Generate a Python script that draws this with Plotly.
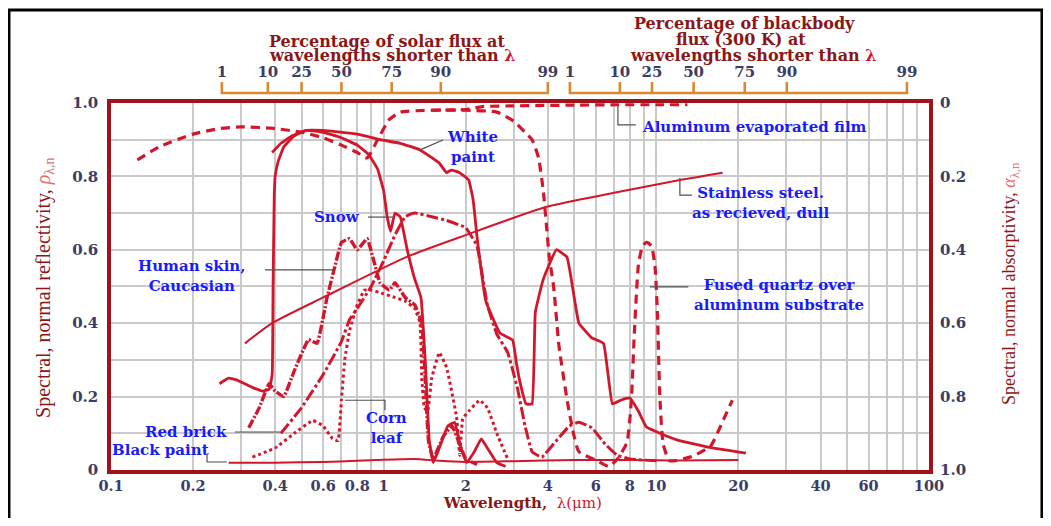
import numpy as np
import plotly.graph_objects as go

# ---------------- data (wavelength in micrometres, reflectivity) ----------------
aluminum_wl = [0.125, 0.15, 0.2, 0.25, 0.3, 0.4, 0.5, 0.6, 0.7, 0.8, 0.87, 0.95, 1.05, 1.15, 1.5, 2.0, 2.3, 3.0, 5.0, 7.2, 10.0, 13.0]
aluminum_rho = [0.845, 0.88, 0.915, 0.93, 0.935, 0.93, 0.92, 0.905, 0.885, 0.865, 0.85, 0.90, 0.955, 0.975, 0.98, 0.982, 0.99, 0.992, 0.994, 0.995, 0.995, 0.995]

quartz_wl = [1.5, 2.0, 2.6, 3.0, 3.3, 3.5, 3.7, 3.85, 3.95, 4.05, 4.2, 4.4, 4.8, 5.2, 6.0, 6.7, 7.2, 7.8, 8.1, 8.3, 8.6, 8.9, 9.2, 9.6, 9.9, 10.1, 10.3, 10.6, 11.2, 13.5, 15.8, 17.6, 19.0]
quartz_rho = [0.98, 0.98, 0.975, 0.95, 0.92, 0.90, 0.85, 0.76, 0.67, 0.58, 0.50, 0.335, 0.155, 0.05, 0.027, 0.01, 0.03, 0.075, 0.19, 0.37, 0.56, 0.61, 0.62, 0.61, 0.55, 0.42, 0.2, 0.07, 0.025, 0.037, 0.065, 0.136, 0.19]

white_wl = [0.25, 0.27, 0.29, 0.33, 0.36, 0.38, 0.39, 0.393, 0.397, 0.40, 0.41, 0.43, 0.47, 0.52, 0.6, 0.8, 0.97, 1.15, 1.36, 1.6, 1.7, 1.77, 1.9, 2.05, 2.13, 2.2, 2.37, 2.67, 2.97, 3.07, 3.15, 3.33, 3.5, 3.6, 3.85, 4.3, 4.7, 4.95, 5.2, 5.8, 6.4, 6.9, 7.4, 8.0, 8.6, 9.2, 10.3, 11.9, 15.3, 21.3]
white_rho = [0.235, 0.25, 0.245, 0.225, 0.215, 0.22, 0.26, 0.5, 0.75, 0.80, 0.84, 0.88, 0.91, 0.925, 0.925, 0.915, 0.90, 0.89, 0.872, 0.836, 0.81, 0.817, 0.81, 0.79, 0.735, 0.635, 0.46, 0.373, 0.354, 0.29, 0.245, 0.18, 0.18, 0.43, 0.52, 0.60, 0.58, 0.49, 0.40, 0.36, 0.345, 0.18, 0.19, 0.196, 0.16, 0.117, 0.10, 0.082, 0.063, 0.046]

snow_wl = [0.39, 0.42, 0.46, 0.52, 0.6, 0.7, 0.8, 0.88, 0.95, 1.0, 1.03, 1.06, 1.1, 1.15, 1.22, 1.3, 1.37, 1.42, 1.47, 1.52, 1.6, 1.72, 1.82, 1.92, 2.02, 2.15, 2.28, 2.4, 2.6, 2.8]
snow_rho = [0.865, 0.89, 0.91, 0.925, 0.92, 0.905, 0.885, 0.86, 0.82, 0.76, 0.69, 0.65, 0.70, 0.69, 0.60, 0.52, 0.47, 0.30, 0.08, 0.02, 0.06, 0.12, 0.13, 0.06, 0.02, 0.05, 0.085, 0.06, 0.02, 0.01]

skin_wl = [0.32, 0.35, 0.38, 0.40, 0.43, 0.47, 0.53, 0.57, 0.62, 0.66, 0.70, 0.75, 0.80, 0.87, 0.92, 0.97, 1.05, 1.1, 1.2, 1.3, 1.38, 1.42, 1.46, 1.52, 1.65, 1.78, 1.9, 2.0, 2.2]
skin_rho = [0.115, 0.17, 0.235, 0.215, 0.20, 0.27, 0.355, 0.345, 0.47, 0.55, 0.62, 0.63, 0.60, 0.63, 0.57, 0.51, 0.49, 0.51, 0.47, 0.45, 0.40, 0.25, 0.08, 0.03, 0.09, 0.12, 0.07, 0.03, 0.015]

brick_wl = [0.42, 0.5, 0.6, 0.7, 0.75, 0.8, 0.9, 1.0, 1.1, 1.2, 1.3, 1.5, 1.7, 2.0, 2.2, 2.4, 2.6, 2.85, 3.1, 3.3, 3.5, 3.8, 4.3, 4.8, 5.2, 5.8, 6.5, 7.2, 8.0, 10.0]
brick_rho = [0.10, 0.17, 0.26, 0.35, 0.41, 0.44, 0.50, 0.57, 0.64, 0.69, 0.70, 0.69, 0.68, 0.66, 0.61, 0.45, 0.37, 0.32, 0.22, 0.12, 0.05, 0.035, 0.08, 0.12, 0.13, 0.115, 0.07, 0.04, 0.03, 0.025]

corn_wl = [0.33, 0.4, 0.47, 0.55, 0.6, 0.65, 0.68, 0.7, 0.72, 0.75, 0.8, 0.85, 0.9, 1.0, 1.1, 1.2, 1.3, 1.36, 1.38, 1.41, 1.45, 1.5, 1.6, 1.7, 1.85, 1.9, 1.95, 2.05, 2.25, 2.4, 2.6, 2.85]
corn_rho = [0.035, 0.06, 0.10, 0.135, 0.12, 0.085, 0.08, 0.19, 0.30, 0.38, 0.45, 0.49, 0.49, 0.48, 0.47, 0.46, 0.44, 0.40, 0.25, 0.17, 0.16, 0.25, 0.32, 0.28, 0.145, 0.04, 0.14, 0.16, 0.19, 0.17, 0.10, 0.03]

steel_wl = [0.31, 0.39, 0.6, 1.21, 2.0, 3.96, 7.0, 12.2, 17.5]
steel_rho = [0.345, 0.40, 0.47, 0.58, 0.64, 0.717, 0.755, 0.79, 0.81]

black_wl = [0.27, 0.4, 0.6, 0.8, 1.0, 1.3, 1.6, 2.0, 3.0, 5.0, 8.0, 12.0, 20.0]
black_rho = [0.02, 0.02, 0.022, 0.025, 0.028, 0.03, 0.025, 0.022, 0.024, 0.027, 0.027, 0.026, 0.027]

# top scales: percentage of flux at wavelengths shorter than lambda
pct_labels = ["1", "10", "25", "50", "75", "90", "99"]
solar_pct_wl = [0.255, 0.376, 0.50, 0.70, 1.07, 1.62, 4.0]
bb_pct_wl = [4.82, 7.35, 9.64, 13.7, 21.1, 30.1, 83.0]

# axis ticks
x_tickvals = [0.1, 0.2, 0.4, 0.6, 0.8, 1, 2, 4, 6, 8, 10, 20, 40, 60, 100]
x_ticktext = ["0.1", "0.2", "0.4", "0.6", "0.8", "1", "2", "4", "6", "8", "10", "20", "40", "60", "100"]
x_grid = [round(m * 10.0 ** e, 3) for e in (-1, 0, 1) for m in range(1, 10)] + [100.0]
y_tickvals = [0, 0.2, 0.4, 0.6, 0.8, 1.0]
y_ticktext = ["0", "0.2", "0.4", "0.6", "0.8", "1.0"]
y_grid = [round(0.1 * i, 1) for i in range(11)]
alpha_tickvals = [0.0, 0.2, 0.4, 0.6, 0.8, 1.0]
alpha_ticktext = ["0", "0.2", "0.4", "0.6", "0.8", "1.0"]

# curve labels: (text, wavelength, rho, xanchor)
curve_labels = [
    ("White<br>paint", 2.11, 0.88, "center"),
    ("Aluminum evaporated film", 8.7, 0.935, "left"),
    ("Stainless steel.<br>as recieved, dull", 24.2, 0.727, "center"),
    ("Snow", 0.675, 0.689, "center"),
    ("Human skin,<br>Caucasian", 0.198, 0.529, "center"),
    ("Fused quartz over<br>aluminum substrate", 28.2, 0.477, "center"),
    ("Corn<br>leaf", 1.02, 0.114, "center"),
    ("Red brick", 0.188, 0.1035, "center"),
    ("Black paint", 0.152, 0.0545, "center"),
]
# leader lines (wavelength list, rho list)
leaders = [
    ([1.36, 1.65], [0.872, 0.899]),
    ([7.23, 7.23, 8.41], [0.995, 0.94, 0.94]),
    ([12.2, 12.2, 13.5], [0.796, 0.749, 0.749]),
    ([0.876, 1.08], [0.689, 0.689]),
    ([0.367, 0.663], [0.545, 0.545]),
    ([9.47, 13.1], [0.4986, 0.4986]),
    ([0.721, 1.011, 1.011], [0.19, 0.19, 0.163]),
    ([0.285, 0.417], [0.1035, 0.1035]),
    ([0.225, 0.225, 0.266], [0.041, 0.0218, 0.0218]),
]

# scale titles, one entry per line: (text, paper x, paper y)
LAM = "<span style='color:#d3162b'>λ</span>"
scale_titles = [
    ("Percentage of solar flux at", 0.338, 0.9326),
    ("wavelengths shorter than " + LAM, 0.343, 0.900),
    ("Percentage of blackbody", 0.775, 0.9696),
    ("flux (300 K) at", 0.770, 0.9348),
    ("wavelengths shorter than " + LAM, 0.785, 0.900),
]

# ---------------- style ----------------
CURVE = "#d3162b"
FRAME = "#a3121a"
GRID = "#cacaca"
TICKC = "#3c3c64"
TITLEC = "#8a1616"
LABELC = "#1a1aff"
ORANGE = "#d98a2e"
SERIF = "DejaVu Serif"

fig = go.Figure()


def curve(wl, rho, dash="solid", width=3.0, smooth=0.5):
    fig.add_trace(go.Scatter(
        x=wl, y=rho, mode="lines", showlegend=False, hoverinfo="skip",
        line=dict(color=CURVE, width=width, dash=dash, shape="spline", smoothing=smooth)))


curve(aluminum_wl, aluminum_rho, dash="9px,6px", width=3.2)
curve(quartz_wl, quartz_rho, dash="9px,6px", width=3.2)
curve(white_wl, white_rho, width=2.8, smooth=0.3)
curve(snow_wl, snow_rho, width=2.8, smooth=0.3)
curve(skin_wl, skin_rho, dash="9px,2px,2px,2px", width=3.4, smooth=0.3)
curve(brick_wl, brick_rho, dash="12px,3px,3px,3px", width=3.0, smooth=0.3)
curve(corn_wl, corn_rho, dash="3px,3px", width=3.0, smooth=0.3)
curve(black_wl, black_rho, width=2.0)
# stainless steel plotted against the right-hand absorptivity axis (alpha = 1 - rho)
fig.add_trace(go.Scatter(
    x=steel_wl, y=[1 - r for r in steel_rho], yaxis="y2", mode="lines", showlegend=False,
    hoverinfo="skip", line=dict(color=CURVE, width=2.0, shape="spline", smoothing=0.6)))

for lx, ly in leaders:
    fig.add_trace(go.Scatter(x=lx, y=ly, mode="lines", showlegend=False, hoverinfo="skip",
                             line=dict(color="#505050", width=1.2)))

# top percentage brackets (x2 matches x; y3 is a strip above the plot, units ~ px)
BAR, TOP, LAB = 9, 20, 29


def bracket(wls):
    xs = [wls[0], wls[0], wls[-1], wls[-1]]
    ys = [TOP, BAR, BAR, TOP]
    for w in wls[1:-1]:
        xs += [None, w, w]
        ys += [None, BAR, TOP]
    fig.add_trace(go.Scatter(x=xs, y=ys, xaxis="x2", yaxis="y3", mode="lines", showlegend=False,
                             hoverinfo="skip", line=dict(color=ORANGE, width=2.6)))
    fig.add_trace(go.Scatter(x=wls, y=[LAB] * len(wls), xaxis="x2", yaxis="y3", mode="text",
                             text=["<b>%s</b>" % p for p in pct_labels], cliponaxis=False,
                             textfont=dict(family=SERIF, size=15, color=TICKC),
                             showlegend=False, hoverinfo="skip"))


bracket(solar_pct_wl)
bracket(bb_pct_wl)

annotations = []
for text, wl, rho, xa in curve_labels:
    annotations.append(dict(
        x=np.log10(wl), y=rho, xref="x", yref="y", text="<b>%s</b>" % text, showarrow=False,
        xanchor=xa, yanchor="middle", align="center",
        font=dict(family=SERIF, size=15, color=LABELC)))

for text, px, py in scale_titles:
    annotations.append(dict(
        x=px, y=py, xref="paper", yref="paper", showarrow=False, xanchor="center",
        yanchor="middle", text="<b>%s</b>" % text, borderpad=0,
        font=dict(family=SERIF, size=16, color=TITLEC)))

annotations += [
    dict(x=0.5025, y=-0.0718, xref="paper", yref="paper", showarrow=False,
         xanchor="center", yanchor="middle", borderpad=0,
         text="<b>Wavelength,</b>  <span style='color:#d3162b'>λ(μm)</span>",
         font=dict(family=SERIF, size=15, color=TITLEC)),
    dict(x=-0.0807, y=0.398, xref="paper", yref="paper", showarrow=False, textangle=-90,
         xanchor="center", yanchor="middle",
         text="Spectral, normal reflectivity, <span style='color:#e07070'><i>ρ</i><sub>λ,n</sub></span>",
         font=dict(family="Liberation Serif", size=20, color=TITLEC)),
    dict(x=1.099, y=0.4065, xref="paper", yref="paper", showarrow=False, textangle=-90,
         xanchor="center", yanchor="middle",
         text="Spectral, normal absorptivity, <span style='color:#e07070'><i>α</i><sub>λ,n</sub></span>",
         font=dict(family="Liberation Serif", size=18, color=TITLEC)),
]

shapes = [
    dict(type="rect", xref="paper", yref="paper", x0=-0.1247, x1=1.1381, y0=-0.12, y1=1.0,
         line=dict(color="black", width=3), fillcolor="rgba(0,0,0,0)", layer="below"),
]

fig.update_layout(
    width=1035, height=510,
    margin=dict(l=103, r=114, t=2, b=48, autoexpand=False),
    paper_bgcolor="white", plot_bgcolor="white",
    annotations=annotations, shapes=shapes,
    xaxis=dict(type="log", range=[-1, 2], tickmode="array", tickvals=x_tickvals,
               ticktext=["<b>%s</b>" % t for t in x_ticktext],
               showgrid=True, gridcolor=GRID, gridwidth=1.5, zeroline=False,
               minor=dict(tickmode="array", tickvals=x_grid, showgrid=True, gridcolor=GRID,
                          gridwidth=1.5, ticks=""),
               showline=True, linecolor=FRAME, linewidth=3.5, mirror=True, ticks="",
               automargin=False, ticklabelstandoff=0,
               tickfont=dict(family=SERIF, size=14.5, color=TICKC), anchor="y"),
    yaxis=dict(domain=[0, 0.798], range=[0, 1], tickmode="array", tickvals=y_tickvals,
               ticktext=["<b>%s</b>" % t for t in y_ticktext],
               showgrid=True, gridcolor=GRID, gridwidth=1.5, zeroline=False,
               minor=dict(tickmode="array", tickvals=y_grid, showgrid=True, gridcolor=GRID,
                          gridwidth=1.5, ticks=""),
               showline=True, linecolor=FRAME, linewidth=3.5, mirror=True, ticks="",
               automargin=False,
               ticklabelstandoff=6, tickfont=dict(family=SERIF, size=15, color=TICKC)),
    yaxis2=dict(overlaying="y", side="right", range=[1, 0], tickmode="array",
                tickvals=alpha_tickvals, ticktext=["<b>%s</b>" % t for t in alpha_ticktext],
                showgrid=False, zeroline=False, showline=False, ticks="", anchor="x",
                automargin=False,
                ticklabelstandoff=10, tickfont=dict(family=SERIF, size=15, color=TICKC)),
    xaxis2=dict(type="log", matches="x", anchor="y3", visible=False, automargin=False),
    yaxis3=dict(domain=[0.80, 1.0], range=[0, 92], visible=False, automargin=False),
)

fig.write_html("out.html")
